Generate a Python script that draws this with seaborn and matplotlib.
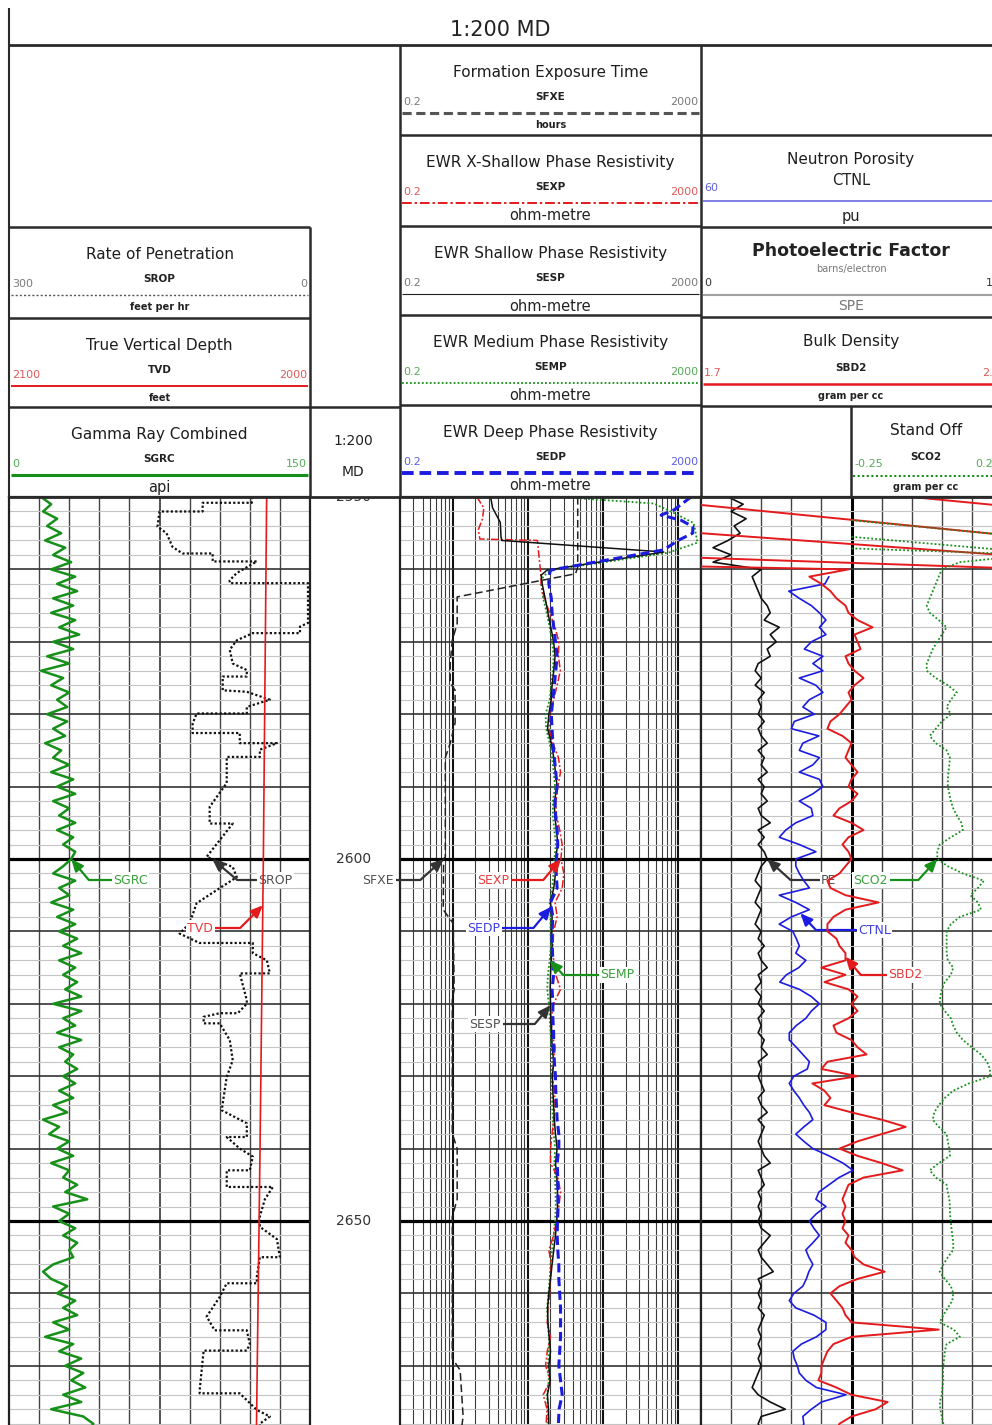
import numpy as np
import pandas as pd
import seaborn as sns
import matplotlib.pyplot as plt
from matplotlib.transforms import blended_transform_factory

DEPTH_1FT = list(range(2550, 2680))
DEPTH_1FT_LOW = list(range(2561, 2680))
RES_DEPTH = list(range(2562, 2680, 2))
DEPTH_MARKS = [2550, 2600, 2650]

# track 1
SGRC = [16, 21, 17, 24, 19, 26, 18, 28, 22, 31,
        21, 33, 24, 34, 22, 32, 21, 33, 25, 35,
        22, 32, 19, 30, 16, 27, 21, 30, 24, 29,
        19, 29, 22, 28, 18, 26, 22, 30, 21, 32,
        24, 33, 22, 30, 25, 33, 24, 32, 27, 33,
        31, 27, 22, 33, 25, 30, 21, 32, 24, 33,
        25, 34, 27, 36, 25, 33, 27, 34, 28, 36,
        22, 36, 27, 33, 24, 36, 25, 32, 28, 34,
        27, 33, 25, 32, 22, 29, 17, 25, 20, 30,
        24, 32, 21, 30, 27, 34, 28, 39, 22, 30,
        25, 33, 27, 34, 30, 32, 22, 17, 21, 29,
        24, 33, 27, 34, 22, 30, 18, 32, 25, 36,
        28, 37, 31, 38, 27, 36, 21, 37, 42, 40]

SROP_DEPTH = [2550.0, 2550.8, 2550.8, 2552.0, 2552.0, 2554.1, 2555.0, 2556.9, 2557.8, 2557.8,
              2558.9, 2558.9, 2560.5, 2561.5, 2561.9, 2561.9, 2567.4, 2567.9, 2568.8, 2568.8,
              2569.8, 2571.1, 2573.0, 2573.9, 2574.8, 2574.8, 2576.7, 2576.9, 2578.0, 2579.0,
              2579.9, 2579.9, 2581.3, 2582.6, 2582.6, 2584.0, 2584.0, 2584.9, 2585.9, 2585.9,
              2589.5, 2592.8, 2595.1, 2595.1, 2597.4, 2599.7, 2601.1, 2602.5, 2604.3, 2606.1,
              2608.9, 2610.3, 2611.6, 2611.6, 2613.0, 2614.0, 2615.8, 2615.8, 2619.5, 2620.0,
              2621.3, 2621.3, 2621.8, 2622.7, 2622.7, 2625.0, 2627.8, 2630.1, 2634.7, 2636.5,
              2638.4, 2638.4, 2640.0, 2641.1, 2643.0, 2643.0, 2645.3, 2645.3, 2647.0, 2649.4,
              2650.8, 2652.5, 2655.0, 2655.0, 2657.7, 2658.6, 2658.6, 2660.5, 2663.2, 2665.1,
              2665.1, 2667.0, 2667.9, 2667.9, 2673.4, 2673.8, 2673.8, 2676.1, 2677.0, 2678.0,
              2679.0]
SROP = [58, 58, 107, 107, 150, 152, 143, 137, 127, 97,
        97, 53, 73, 80, 80, 2, 2, 10, 10, 57,
        73, 80, 77, 63, 63, 87, 87, 63, 40, 63,
        63, 113, 117, 117, 70, 70, 33, 50, 50, 83,
        83, 100, 100, 77, 90, 103, 77, 73, 93, 113,
        120, 130, 110, 57, 57, 43, 40, 70, 63, 63,
        72, 90, 106, 106, 90, 80, 77, 83, 88, 63,
        63, 83, 70, 57, 60, 83, 83, 37, 45, 50,
        50, 33, 30, 50, 53, 53, 83, 90, 103, 95,
        63, 60, 63, 106, 110, 110, 70, 53, 40, 50,
        50]

TVD_DEPTH = [2550, 2600, 2640, 2679]
TVD = [2014.4, 2015.5, 2016.6, 2017.8]

# track 3 (ohm-metre / hours)
SFXE_DEPTH = [2550, 2559.7, 2560.6, 2563.8, 2567.5, 2569.8, 2573, 2575.7, 2576.7, 2581.2,
              2584, 2586, 2599.7, 2600, 2607, 2608.9, 2618, 2619.5, 2637.9, 2640,
              2647, 2649.4, 2669, 2670.6, 2677, 2679]
SFXE = [46, 46, 43, 1.15, 1.15, 0.99, 0.93, 0.93, 1.08, 1.08,
        0.93, 0.80, 0.80, 0.76, 0.75, 1.02, 1.05, 0.99, 0.99, 1.15,
        1.15, 0.99, 0.99, 1.26, 1.38, 1.3]

SESP_TOP_DEPTH = [2550.0, 2551.5, 2553.5, 2555.5, 2556.0, 2557.6, 2560.1, 2560.8]
SESP_TOP = [3.2, 3.4, 4.3, 4.4, 4.5, 640, 18, 15]
SEXP_TOP_DEPTH = [2550.0, 2551.5, 2553.0, 2554.5, 2555.8, 2556.0, 2558.0, 2560.5]
SEXP_TOP = [2.1, 2.6, 2.5, 2.2, 2.3, 13.4, 14.0, 14.8]
SEDP_TOP_DEPTH = [2550.0, 2551.8, 2552.5, 2553.2, 2554.1, 2555.0, 2556.0, 2557.3, 2560.1, 2561.0]
SEDP_TOP = [1470, 870, 590, 1080, 1560, 1550, 990, 640, 20, 19]
SEMP_TOP_DEPTH = [2550.0, 2550.9, 2552.2, 2553.6, 2556.3, 2557.7, 2560.1, 2561.0]
SEMP_TOP = [27, 470, 870, 1600, 1800, 730, 20, 16]

SESP = [15.5, 17.0, 18.5, 20.2, 22.0, 23.0, 22.1, 21.0, 20.5, 19.0,
        18.3, 20.5, 22.1, 23.3, 24.5, 22.5, 22.8, 24.0, 25.0, 23.3,
        23.3, 22.1, 20.0, 21.0, 20.8, 21.0, 20.5, 20.0, 19.8, 20.0,
        20.2, 20.8, 21.0, 22.1, 21.2, 21.5, 22.0, 22.5, 23.3, 24.5,
        23.3, 24.3, 24.8, 24.8, 24.2, 23.3, 22.1, 21.0, 20.0, 19.0,
        18.3, 18.5, 19.2, 20.0, 19.0, 19.8, 18.2, 18.8, 19.0]
SEXP = [15.0, 16.5, 19.5, 23.0, 25.8, 25.5, 27.0, 24.5, 22.0, 20.0,
        19.0, 21.5, 25.5, 27.2, 25.0, 23.5, 24.0, 26.5, 28.6, 27.5,
        30.1, 28.6, 23.0, 24.5, 22.0, 21.5, 22.0, 23.5, 27.2, 22.0,
        20.5, 21.0, 23.0, 22.0, 21.0, 22.5, 23.0, 22.0, 21.0, 20.0,
        20.0, 25.0, 27.2, 25.8, 24.0, 22.0, 19.0, 20.5, 20.0, 19.5,
        18.5, 18.1, 20.0, 18.1, 17.2, 20.0, 16.0, 18.0, 17.5]
SEDP = [19.0, 20.5, 21.0, 22.1, 23.3, 24.5, 23.5, 22.5, 21.5, 20.5,
        21.0, 21.5, 22.5, 23.5, 24.5, 23.0, 23.3, 24.5, 25.0, 24.0,
        23.8, 24.5, 20.0, 21.5, 21.0, 21.0, 21.5, 22.0, 21.0, 21.5,
        21.5, 22.0, 22.1, 22.5, 23.3, 23.5, 24.0, 24.5, 25.8, 25.8,
        24.5, 25.0, 25.0, 25.3, 24.8, 24.5, 25.0, 25.8, 25.8, 26.5,
        27.2, 27.2, 27.2, 26.5, 25.8, 27.2, 28.6, 26.0, 25.5]
SEMP = [15.0, 16.0, 17.8, 19.5, 21.0, 22.0, 21.5, 20.5, 19.5, 17.2,
        17.5, 19.5, 21.0, 22.0, 23.0, 21.5, 21.5, 22.5, 23.5, 22.5,
        22.0, 21.0, 19.5, 20.0, 20.0, 20.2, 19.5, 18.5, 18.1, 19.0,
        19.5, 20.0, 20.5, 21.0, 20.5, 21.0, 21.0, 21.5, 22.1, 23.0,
        22.5, 23.0, 23.3, 23.5, 23.0, 22.0, 21.0, 20.0, 19.5, 18.8,
        18.0, 18.3, 19.0, 19.0, 18.5, 19.0, 18.0, 18.5, 18.3]

# track 4
SPE = [0.9, 1.4, 1.0, 1.5, 1.1, 1.3, 0.9, 0.4, 1.0, 0.4,
       2.0, 1.7, 1.8, 1.9, 2.0, 2.2, 2.3, 2.1, 2.6, 2.3,
       2.5, 2.2, 2.3, 1.9, 1.8, 2.0, 1.8, 2.1, 1.9, 2.0,
       1.9, 2.1, 1.9, 2.0, 2.2, 1.9, 2.1, 2.0, 2.2, 1.9,
       2.1, 2.0, 2.2, 1.9, 2.0, 2.3, 1.9, 2.1, 1.9, 2.1,
       2.2, 2.0, 1.9, 1.8, 2.0, 1.9, 1.8, 2.0, 1.9, 1.8,
       2.0, 1.9, 2.1, 1.9, 2.0, 2.2, 1.9, 2.0, 1.8, 2.0,
       1.9, 2.1, 1.9, 2.0, 1.9, 2.1, 2.0, 2.2, 1.9, 2.0,
       1.9, 2.0, 2.1, 1.9, 2.0, 2.2, 1.9, 2.1, 2.0, 1.9,
       2.0, 2.1, 2.3, 1.9, 2.0, 2.1, 1.9, 2.0, 1.9, 2.0,
       1.9, 2.0, 2.3, 2.1, 1.9, 2.0, 2.2, 2.4, 1.9, 2.0,
       1.9, 2.0, 1.9, 2.1, 2.0, 1.9, 2.0, 1.9, 2.0, 1.9,
       2.0, 1.9, 1.8, 1.7, 1.9, 2.3, 2.8, 2.0, 1.9, 2.0]

CTNL = [34.5, 35.3, 42.5, 40.4, 38.0, 36.4, 35.1, 36.4, 35.1, 38.0,
        39.4, 35.7, 37.7, 35.7, 40.4, 37.1, 35.7, 38.4, 39.7, 37.4,
        41.4, 42.0, 36.5, 39.7, 40.4, 36.4, 37.7, 40.4, 36.4, 35.7,
        37.7, 40.4, 38.0, 37.7, 41.1, 43.1, 44.4, 40.4, 37.1, 41.1,
        41.1, 40.4, 39.5, 38.4, 44.4, 41.1, 38.4, 42.0, 44.4, 41.7,
        41.0, 40.4, 41.1, 39.1, 40.5, 43.0, 44.3, 40.4, 38.0, 36.4,
        38.0, 39.1, 41.0, 42.4, 42.4, 41.0, 39.7, 38.4, 38.8, 41.5,
        42.4, 41.5, 40.4, 39.5, 38.4, 37.7, 39.5, 41.1, 39.5, 37.7,
        34.5, 31.7, 29.7, 32.5, 34.5, 36.5, 37.1, 35.1, 37.0, 38.4,
        37.5, 36.4, 37.7, 39.1, 38.5, 37.7, 38.5, 39.0, 39.7, 41.5,
        42.4, 41.1, 37.5, 35.1, 35.1, 37.0, 40.0, 41.7, 41.4, 40.8,
        40.4, 39.1, 37.0, 31.1, 36.0, 38.0, 39.7, 39.5, 40.0]

SBD2 = [2.06, 2.10, 2.13, 2.15, 2.18, 2.19, 2.22, 2.27, 2.21, 2.22,
        2.23, 2.18, 2.19, 2.21, 2.24, 2.21, 2.19, 2.20, 2.18, 2.16,
        2.13, 2.12, 2.17, 2.20, 2.19, 2.18, 2.20, 2.22, 2.20, 2.19,
        2.22, 2.20, 2.16, 2.14, 2.20, 2.24, 2.19, 2.17, 2.19, 2.20,
        2.18, 2.16, 2.12, 2.13, 2.18, 2.29, 2.18, 2.14, 2.12, 2.12,
        2.15, 2.16, 2.18, 2.18, 2.10, 2.18, 2.11, 2.19, 2.22, 2.20,
        2.22, 2.19, 2.14, 2.15, 2.20, 2.22, 2.25, 2.12, 2.10, 2.22,
        2.07, 2.11, 2.13, 2.11, 2.20, 2.30, 2.38, 2.30, 2.22, 2.16,
        2.22, 2.30, 2.37, 2.24, 2.19, 2.18, 2.17, 2.18, 2.17, 2.18,
        2.17, 2.19, 2.18, 2.20, 2.21, 2.24, 2.31, 2.22, 2.16, 2.13,
        2.15, 2.17, 2.18, 2.20, 2.49, 2.20, 2.14, 2.12, 2.11, 2.10,
        2.10, 2.09, 2.15, 2.20, 2.32, 2.28, 2.20, 2.16, 2.15]
# wrapped traces above 2561 ft (each pair runs across the full scale)
SBD2_TOP_DEPTH = [2550.0, 2551.2, 2551.1, 2555.2, 2555.0, 2558.0, 2558.4, 2559.8, 2559.6, 2560.0]
SBD2_TOP = [2.40, 2.70, 1.70, 2.70, 1.70, 2.70, 1.70, 2.70, 1.70, 2.19]
SBD2_TOP_SEG = [0, 0, 1, 1, 2, 2, 3, 3, 4, 4]

SCO2 = [0.04, 0.03, 0.02, 0.01, 0.0, 0.01, 0.04, 0.066, 0.05, 0.035,
        0.02, 0.01, 0.0, 0.0, 0.03, 0.07, 0.10, 0.08, 0.066, 0.08,
        0.05, 0.03, 0.01, 0.03, 0.066, 0.077, 0.075, 0.072, 0.07, 0.07,
        0.075, 0.08, 0.088, 0.10, 0.115, 0.12, 0.08, 0.043, 0.035, 0.035,
        0.07, 0.12, 0.19, 0.17, 0.145, 0.17, 0.18, 0.11, 0.08, 0.066,
        0.066, 0.066, 0.066, 0.07, 0.088, 0.08, 0.06, 0.05, 0.045, 0.043,
        0.06, 0.08, 0.088, 0.10, 0.12, 0.15, 0.18, 0.20, 0.21, 0.21,
        0.14, 0.088, 0.06, 0.04, 0.025, 0.02, 0.04, 0.066, 0.07, 0.075,
        0.077, 0.04, 0.01, 0.03, 0.066, 0.07, 0.075, 0.077, 0.077, 0.08,
        0.082, 0.085, 0.088, 0.088, 0.07, 0.055, 0.043, 0.06, 0.08, 0.088,
        0.085, 0.07, 0.055, 0.043, 0.09, 0.11, 0.066, 0.06, 0.058, 0.055,
        0.054, 0.055, 0.052, 0.05, 0.043, 0.045, 0.05, 0.055, 0.055]
SCO2_TOP_DEPTH = [2553.2, 2555.2, 2555.5, 2557.3, 2557.1, 2557.8, 2558.4, 2559.0, 2560.0]
SCO2_TOP = [-0.25, 0.25, -0.25, 0.25, -0.25, 0.25, 0.25, 0.11, 0.05]
SCO2_TOP_SEG = [0, 0, 1, 1, 2, 2, 3, 3, 3]

# ---------------- layout ----------------
W, H = 992, 1425
DATA_Y0 = 497
PX_PER_FT = 7.24
TOP_MD = 2550
BOT_MD = TOP_MD + (H - DATA_Y0) / PX_PER_FT

GREEN = '#17901a'
RED = '#e41a1c'
BLUE = '#1c1ce0'
BLACK = '#111111'

sns.set_theme(style="white")
plt.rcParams['font.family'] = ['DejaVu Sans']

fig = plt.figure(figsize=(W / 100, H / 100), dpi=100)


def data_axes(x0, x1):
    return fig.add_axes([x0 / W, 0, (x1 - x0) / W, (H - DATA_Y0) / H])


def depth_grid(ax):
    for d in range(2552, 2680, 2):
        if d % 50 == 0:
            ax.axhline(d, color='black', lw=2.3, zorder=1.2)
        elif d % 10 == 0:
            ax.axhline(d, color='#333333', lw=1.2, zorder=1.1)
        else:
            ax.axhline(d, color='#c4c4c4', lw=0.8, zorder=1)


def style_track(ax):
    ax.set_ylim(BOT_MD, TOP_MD)
    ax.tick_params(which='both', left=False, bottom=False, labelleft=False, labelbottom=False)
    ax.set(xlabel='', ylabel='')
    for s in ('left', 'right', 'top'):
        ax.spines[s].set_color('#222222')
        ax.spines[s].set_linewidth(1.6)
    ax.spines['bottom'].set_visible(False)
    depth_grid(ax)


def curve_axes(base, lo, hi):
    t = base.twiny()
    t.set_xlim(lo, hi)
    t.set_axis_off()
    return t


def draw(ax, depth, values, color, lw=1.3, ls='-', seg=None, z=3):
    df = pd.DataFrame({'depth': depth, 'value': values})
    kw = {}
    if seg is not None:
        df['seg'] = seg
        kw['units'] = 'seg'
    sns.lineplot(data=df, x='value', y='depth', orient='y', sort=False, estimator=None,
                 color=color, lw=lw, linestyle=ls, ax=ax, legend=False, zorder=z, **kw)


def tag(ax, name, tip, txt, color, side, angle):
    ax.annotate(name, xy=tip, xytext=(txt[0], H - txt[1]), textcoords='figure pixels',
                ha='left' if side == 'left' else 'right', va='center', fontsize=9,
                color=color, alpha=0.85,
                bbox=dict(boxstyle='square,pad=0.12', fc='white', ec='none'),
                arrowprops=dict(arrowstyle='-|>,head_length=0.8,head_width=0.35', color=color,
                                lw=1.6, shrinkA=0, shrinkB=0,
                                connectionstyle=f'angle,angleA=0,angleB={angle},rad=0'),
                annotation_clip=False, zorder=8)


# depth column
ax_d = data_axes(310, 400)
ax_d.set_ylim(BOT_MD, TOP_MD)
ax_d.set_axis_off()
tr = blended_transform_factory(ax_d.transAxes, ax_d.transData)
for d in DEPTH_MARKS:
    ax_d.text(0.48, d, str(d), transform=tr, ha='center', va='center',
              fontsize=10, color='#333333', clip_on=True)

# ---- track 1 ----
ax1 = data_axes(9, 310)
ax1.set_xlim(0, 10)
for i in range(1, 10):
    ax1.axvline(i, color='#444444', lw=1.3 if i == 5 else 1.0, zorder=1)
style_track(ax1)

gr_ax = curve_axes(ax1, 0, 150)
draw(gr_ax, DEPTH_1FT, SGRC, GREEN, lw=1.8)
rop_ax = curve_axes(ax1, 300, 0)
draw(rop_ax, SROP_DEPTH, SROP, BLACK, lw=1.6, ls=(0, (1, 1)))
tvd_ax = curve_axes(ax1, 2100, 2000)
draw(tvd_ax, TVD_DEPTH, TVD, RED, lw=1.2)

tag(gr_ax, 'SGRC', (np.interp(2600, DEPTH_1FT, SGRC), 2600), (113, 880), GREEN, 'left', -50)
tag(rop_ax, 'SROP', (np.interp(2600, SROP_DEPTH, SROP), 2600), (258, 880), '#333333', 'left', -40)
tag(tvd_ax, 'TVD', (np.interp(2606.4, TVD_DEPTH, TVD), 2606.4), (213, 928), RED, 'right', 45)

# ---- track 3 (log resistivity) ----
ax3 = data_axes(400, 701)
ax3.set_xscale('log')
ax3.set_xlim(0.2, 2000)
for dec in (0.1, 1, 10, 100, 1000):
    for m in range(1, 10):
        v = m * dec
        if 0.2 < v < 2000:
            ax3.axvline(v, color='#111111' if m == 1 else '#3c3c3c',
                        lw=1.5 if m == 1 else 0.8, zorder=1)
style_track(ax3)

draw(ax3, SFXE_DEPTH, SFXE, '#222222', lw=1.1, ls=(0, (5, 2.5)))
draw(ax3, SEMP_TOP_DEPTH + RES_DEPTH, SEMP_TOP + SEMP, GREEN, lw=1.3, ls=(0, (1, 1.2)))
draw(ax3, SEXP_TOP_DEPTH + RES_DEPTH, SEXP_TOP + SEXP, RED, lw=1.1, ls=(0, (5, 1.5, 1.2, 1.5)))
draw(ax3, SESP_TOP_DEPTH + RES_DEPTH, SESP_TOP + SESP, BLACK, lw=1.1)
draw(ax3, SEDP_TOP_DEPTH + RES_DEPTH, SEDP_TOP + SEDP, BLUE, lw=2.2, ls=(0, (3, 1.5)))

tag(ax3, 'SFXE', (np.interp(2600, SFXE_DEPTH, SFXE), 2600), (394, 880), '#333333', 'right', 42)
tag(ax3, 'SEXP', (np.interp(2600, RES_DEPTH, SEXP), 2600), (509, 880), RED, 'right', 50)
tag(ax3, 'SEDP', (np.interp(2606.6, RES_DEPTH, SEDP), 2606.6), (500, 928), BLUE, 'right', 50)
tag(ax3, 'SEMP', (np.interp(2614, RES_DEPTH, SEMP), 2614), (600, 975), GREEN, 'left', -47)
tag(ax3, 'SESP', (np.interp(2620.2, RES_DEPTH, SESP), 2620.2), (501, 1024), '#333333', 'right', 50)

# ---- track 4 ----
ax4 = data_axes(701, 1002)
ax4.set_xlim(0, 10)
for i in range(1, 10):
    ax4.axvline(i, color='black' if i == 5 else '#444444', lw=2.2 if i == 5 else 1.0, zorder=1)
style_track(ax4)

pe_ax = curve_axes(ax4, 0, 10)
draw(pe_ax, DEPTH_1FT, SPE, BLACK, lw=1.2)
nphi_ax = curve_axes(ax4, 60, 0)
draw(nphi_ax, DEPTH_1FT_LOW, CTNL, BLUE, lw=1.2)
rho_ax = curve_axes(ax4, 1.7, 2.7)
draw(rho_ax, SBD2_TOP_DEPTH + DEPTH_1FT_LOW, SBD2_TOP + SBD2, RED, lw=1.4,
     seg=SBD2_TOP_SEG + [4] * len(SBD2))
sco_ax = curve_axes(ax4, -0.75, 0.25)
draw(sco_ax, SCO2_TOP_DEPTH + DEPTH_1FT_LOW, SCO2_TOP + SCO2, GREEN, lw=1.3, ls=(0, (1, 1.2)),
     seg=SCO2_TOP_SEG + [3] * len(SCO2))

tag(pe_ax, 'PE', (np.interp(2600, DEPTH_1FT, SPE), 2600), (821, 880), '#333333', 'left', -42)
tag(sco_ax, 'SCO2', (np.interp(2600, DEPTH_1FT_LOW, SCO2), 2600), (888, 880), GREEN, 'right', 48)
tag(nphi_ax, 'CTNL', (np.interp(2607.5, DEPTH_1FT_LOW, CTNL), 2607.5), (858, 930), BLUE, 'left', -47)
tag(rho_ax, 'SBD2', (np.interp(2613.5, DEPTH_1FT_LOW, SBD2), 2613.5), (888, 975), RED, 'left', -50)

for ax in (ax1, ax3, ax4, ax_d):
    ax.set_ylim(BOT_MD, TOP_MD)

# ---------------- header (pixel coordinates) ----------------
ax_h = fig.add_axes([0, 0, 1, 1])
ax_h.set_xlim(0, W)
ax_h.set_ylim(H, 0)
ax_h.set_axis_off()


def seg_line(x0, y0, x1, y1, lw=1.8, c='#2a2a2a', ls='-'):
    ax_h.plot([x0, x1], [y0, y1], color=c, lw=lw, ls=ls, solid_capstyle='butt')


def htext(x, y, s, size=8, color='#222222', weight='normal', ha='center'):
    ax_h.text(x, y, s, fontsize=size, color=color, fontweight=weight, ha=ha, va='center')


def curve_header(x0, x1, y0, title, mnem, lo, hi, unit, scol, lcol, ls, lw, usize=7, uweight='bold'):
    xc = (x0 + x1) / 2
    htext(xc, y0 + 27, title, size=11, color='#1e1e1e')
    htext(xc, y0 + 52, mnem, size=7.5, weight='bold')
    htext(x0 + 3, y0 + 57, lo, size=8, color=scol, ha='left')
    htext(x1 - 3, y0 + 57, hi, size=8, color=scol, ha='right')
    seg_line(x0 + 2, y0 + 68, x1 - 2, y0 + 68, lw=lw, c=lcol, ls=ls)
    htext(xc, y0 + 80, unit, size=usize, weight=uweight)


# frame
seg_line(9, 8, 9, 497, lw=1.5)
seg_line(9, 45, 992, 45, lw=2)
for y in (227, 318):
    seg_line(9, y, 310, y)
seg_line(9, 407, 400, 407)
seg_line(310, 227, 310, 497)
seg_line(400, 45, 400, 497)
seg_line(701, 45, 701, 497)
for y in (135, 226, 315, 405):
    seg_line(400, y, 701, y)
for y in (135, 227, 317, 406):
    seg_line(701, y, 992, y)
seg_line(851, 406, 851, 497)
seg_line(9, 497, 992, 497, lw=2)

htext(500, 30, '1:200 MD', size=15, color='#222222')
htext(353, 441, '1:200', size=10)
htext(353, 472, 'MD', size=10)

GREY_S = '#7a7a7a'
curve_header(9, 310, 227, 'Rate of Penetration', 'SROP', '300', '0', 'feet per hr',
             GREY_S, '#555555', (0, (1.5, 1.5)), 1.0)
curve_header(9, 310, 318, 'True Vertical Depth', 'TVD', '2100', '2000', 'feet',
             '#e05a5a', RED, '-', 1.4)
curve_header(9, 310, 407, 'Gamma Ray Combined', 'SGRC', '0', '150', 'api',
             '#55aa55', GREEN, '-', 2.2, usize=10.5, uweight='normal')
curve_header(400, 701, 45, 'Formation Exposure Time', 'SFXE', '0.2', '2000', 'hours',
             GREY_S, '#555555', (0, (3, 1.5)), 2.2)
curve_header(400, 701, 135, 'EWR X-Shallow Phase Resistivity', 'SEXP', '0.2', '2000', 'ohm-metre',
             '#e05a5a', RED, (0, (5, 1.5, 1.2, 1.5)), 1.4, usize=10.5, uweight='normal')
curve_header(400, 701, 226, 'EWR Shallow Phase Resistivity', 'SESP', '0.2', '2000', 'ohm-metre',
             GREY_S, '#222222', '-', 0.8, usize=10.5, uweight='normal')
curve_header(400, 701, 315, 'EWR Medium Phase Resistivity', 'SEMP', '0.2', '2000', 'ohm-metre',
             '#55aa55', GREEN, (0, (1, 1.2)), 1.3, usize=10.5, uweight='normal')
curve_header(400, 701, 405, 'EWR Deep Phase Resistivity', 'SEDP', '0.2', '2000', 'ohm-metre',
             '#6060e0', BLUE, (0, (3, 1.5)), 2.8, usize=10.5, uweight='normal')

# track 4 header
htext(851, 159, 'Neutron Porosity', size=11, color='#1e1e1e')
htext(851, 180, 'CTNL', size=10.5)
htext(704, 188, '60', size=8, color='#6060e0', ha='left')
htext(1000, 188, '0', size=8, color='#6060e0', ha='right')
seg_line(703, 201, 1000, 201, lw=1.2, c='#6a6ae0')
htext(851, 216, 'pu', size=10.5)

htext(851, 251, 'Photoelectric Factor', size=12.5, weight='bold')
htext(851, 269, 'barns/electron', size=7, color='#777777')
htext(704, 283, '0', size=8, color='#333333', ha='left')
htext(1000, 283, '10', size=8, color='#333333', ha='right')
seg_line(703, 295, 1000, 295, lw=1.5, c='#a0a0a0')
htext(851, 306, 'SPE', size=10, color='#777777')

htext(851, 341, 'Bulk Density', size=11, color='#1e1e1e')
htext(851, 368, 'SBD2', size=7.5, weight='bold')
htext(704, 373, '1.7', size=8, color='#e05a5a', ha='left')
htext(1000, 373, '2.7', size=8, color='#e05a5a', ha='right')
seg_line(703, 384, 1000, 384, lw=1.8, c=RED)
htext(851, 396, 'gram per cc', size=7, weight='bold')

htext(926, 430, 'Stand Off', size=11, color='#1e1e1e')
htext(926, 457, 'SCO2', size=7.5, weight='bold')
htext(854, 464, '-0.25', size=8, color='#55aa55', ha='left')
htext(1000, 464, '0.25', size=8, color='#55aa55', ha='right')
seg_line(853, 476, 1000, 476, lw=1.5, c=GREEN, ls=(0, (1, 1.2)))
htext(926, 487, 'gram per cc', size=7, weight='bold')

fig.savefig('out.png', dpi=100)
